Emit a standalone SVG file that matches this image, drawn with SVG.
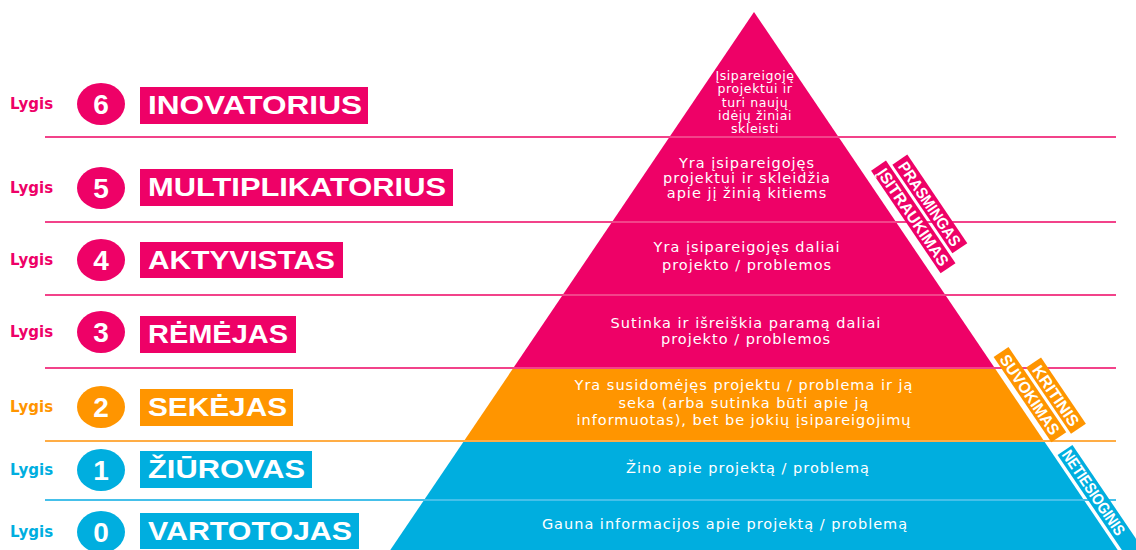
<svg xmlns="http://www.w3.org/2000/svg" width="1136" height="550" viewBox="0 0 1136 550">
<style>
.lygis{font-family:"DejaVu Sans",sans-serif;font-weight:bold;font-size:15px}
.num{font-family:"Liberation Sans",sans-serif;font-weight:bold;font-size:28px;fill:#fff;text-anchor:middle}
.lbl{font-family:"Liberation Sans",sans-serif;font-weight:bold;font-size:25px;fill:#fff}
.desc{font-family:"DejaVu Sans",sans-serif;font-size:14.5px;letter-spacing:1px;fill:#fff;text-anchor:middle}
.top{font-size:12.5px;letter-spacing:0.6px}
.band{font-family:"Liberation Sans",sans-serif;font-weight:bold;font-size:16px;fill:#fff;text-anchor:middle}
.pk{fill:#EE0167}.or{fill:#FF9500}.bl{fill:#00AEDF}
</style>
<g id="pyramid">
<polygon class="pk" points="754,12 994.7,368 513.3,368"/>
<polygon class="or" points="513.3,368 994.7,368 1044,441 464,441"/>
<polygon class="bl" points="464,441 1044,441 1117.7,550 390.3,550"/>
</g>
<g id="connectors" stroke-width="2">
<line x1="45" y1="137" x2="1116" y2="137" stroke="#F2438A"/>
<line x1="45" y1="222" x2="1116" y2="222" stroke="#F2438A"/>
<line x1="45" y1="295" x2="1116" y2="295" stroke="#F2438A"/>
<line x1="45" y1="368" x2="1116" y2="368" stroke="#F2438A"/>
<line x1="45" y1="441" x2="1116" y2="441" stroke="#FFAD45"/>
<line x1="45" y1="500" x2="1116" y2="500" stroke="#45C0EA"/>
</g>
<g id="bands" transform="translate(754,12) rotate(55.9)">
<g id="band-istraukimas"><rect class="pk" x="197" y="-26" width="124" height="18"/><text class="band" x="259" y="-11.2" textLength="114" lengthAdjust="spacingAndGlyphs">ĮSITRAUKIMAS</text></g>
<g id="band-prasmingas"><rect class="pk" x="204" y="-47" width="107" height="18"/><text class="band" x="257.5" y="-32.2" textLength="98" lengthAdjust="spacingAndGlyphs">PRASMINGAS</text></g>
<g id="band-suvokimas"><rect class="or" x="420" y="-23" width="103" height="18"/><text class="band" x="471.5" y="-8.2" textLength="93" lengthAdjust="spacingAndGlyphs">SUVOKIMAS</text></g>
<g id="band-kritinis"><rect class="or" x="447" y="-44" width="80" height="18"/><text class="band" x="487" y="-29.2" textLength="70" lengthAdjust="spacingAndGlyphs">KRITINIS</text></g>
<g id="band-netiesioginis"><rect class="bl" x="537" y="-21" width="140" height="18"/><text class="band" x="539" y="-6.2" style="text-anchor:start" textLength="99" lengthAdjust="spacingAndGlyphs">NETIESIOGINIS</text></g>
</g>
<g id="level6">
<text class="lygis pk" x="10" y="109">Lygis</text>
<ellipse class="pk" cx="101" cy="104" rx="24" ry="21"/><text class="num" x="101" y="114">6</text>
<rect class="pk" x="140" y="87" width="228" height="37"/><text class="lbl" x="148" y="114" textLength="214" lengthAdjust="spacingAndGlyphs">INOVATORIUS</text>
<text class="desc top"><tspan x="755" y="80">Įsipareigoję</tspan><tspan x="755" y="93.3">projektui ir</tspan><tspan x="755" y="106.6">turi naujų</tspan><tspan x="755" y="119.9">idėjų žiniai</tspan><tspan x="755" y="133">skleisti</tspan></text>
</g>
<g id="level5">
<text class="lygis pk" x="10" y="193">Lygis</text>
<ellipse class="pk" cx="101" cy="188" rx="24" ry="21"/><text class="num" x="101" y="198">5</text>
<rect class="pk" x="140" y="169" width="313" height="37"/><text class="lbl" x="148" y="196" textLength="298" lengthAdjust="spacingAndGlyphs">MULTIPLIKATORIUS</text>
<text class="desc"><tspan x="747" y="168">Yra įsipareigojęs</tspan><tspan x="747" y="183">projektui ir skleidžia</tspan><tspan x="747" y="198">apie jį žinią kitiems</tspan></text>
</g>
<g id="level4">
<text class="lygis pk" x="10" y="265">Lygis</text>
<ellipse class="pk" cx="101" cy="260" rx="24" ry="21"/><text class="num" x="101" y="270">4</text>
<rect class="pk" x="140" y="242" width="203" height="36"/><text class="lbl" x="148" y="269" textLength="187" lengthAdjust="spacingAndGlyphs">AKTYVISTAS</text>
<text class="desc"><tspan x="747" y="252">Yra įsipareigojęs daliai</tspan><tspan x="747" y="270">projekto / problemos</tspan></text>
</g>
<g id="level3">
<text class="lygis pk" x="10" y="337">Lygis</text>
<ellipse class="pk" cx="101" cy="332" rx="24" ry="21"/><text class="num" x="101" y="342">3</text>
<rect class="pk" x="140" y="316" width="156" height="37"/><text class="lbl" x="148" y="343" textLength="140" lengthAdjust="spacingAndGlyphs">RĖMĖJAS</text>
<text class="desc"><tspan x="746" y="328">Sutinka ir išreiškia paramą daliai</tspan><tspan x="746" y="344">projekto / problemos</tspan></text>
</g>
<g id="level2">
<text class="lygis or" x="10" y="412">Lygis</text>
<ellipse class="or" cx="101" cy="407" rx="24" ry="21"/><text class="num" x="101" y="417">2</text>
<rect class="or" x="140" y="389" width="153" height="37"/><text class="lbl" x="148" y="416" textLength="139" lengthAdjust="spacingAndGlyphs">SEKĖJAS</text>
<text class="desc"><tspan x="744" y="390">Yra susidomėjęs projektu / problema ir ją</tspan><tspan x="744" y="408">seka (arba sutinka būti apie ją</tspan><tspan x="744" y="425">informuotas), bet be jokių įsipareigojimų</tspan></text>
</g>
<g id="level1">
<text class="lygis bl" x="10" y="475">Lygis</text>
<ellipse class="bl" cx="101" cy="470" rx="24" ry="21"/><text class="num" x="101" y="480">1</text>
<rect class="bl" x="140" y="451" width="172" height="37"/><text class="lbl" x="148" y="478" textLength="157" lengthAdjust="spacingAndGlyphs">ŽIŪROVAS</text>
<text class="desc"><tspan x="748" y="473">Žino apie projektą / problemą</tspan></text>
</g>
<g id="level0">
<text class="lygis bl" x="10" y="537">Lygis</text>
<ellipse class="bl" cx="101" cy="532" rx="24" ry="21"/><text class="num" x="101" y="542">0</text>
<rect class="bl" x="140" y="513" width="219" height="36"/><text class="lbl" x="148" y="540" textLength="204" lengthAdjust="spacingAndGlyphs">VARTOTOJAS</text>
<text class="desc"><tspan x="725" y="529">Gauna informacijos apie projektą / problemą</tspan></text>
</g>
</svg>
